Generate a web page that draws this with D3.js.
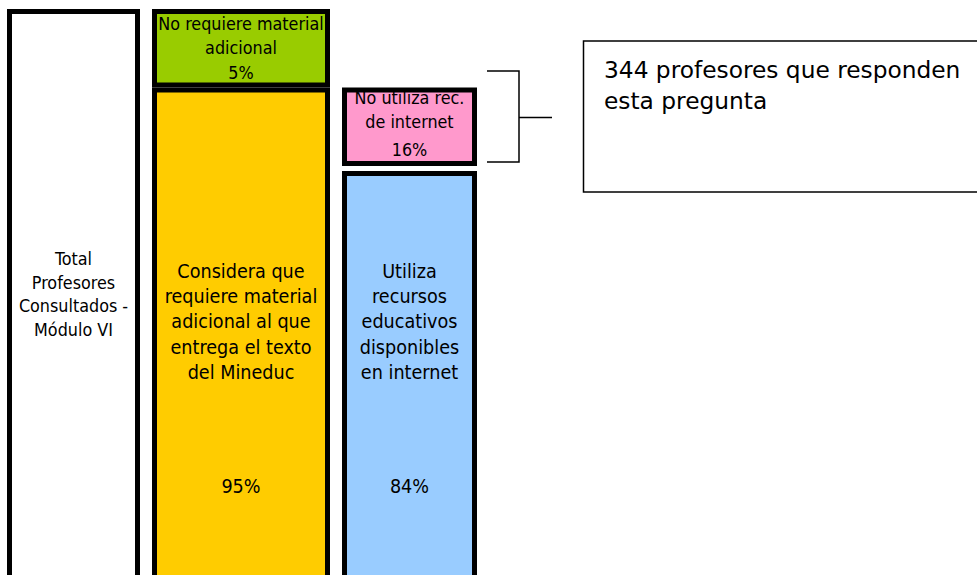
<!DOCTYPE html>
<html>
<head>
<meta charset="utf-8">
<script src="https://cdn.jsdelivr.net/npm/d3@7"></script>
<style>
  html, body { margin: 0; padding: 0; background: #fff; overflow: hidden; }
  svg { display: block; }
</style>
</head>
<body>
<script>
// ---- data ----
const columns = ["total", "material", "internet"];
const totalLabel = ["Total", "Profesores", "Consultados -", "Módulo VI"];
const categories = [
  "No requiere material adicional",
  "Considera que requiere material adicional al que entrega el texto del Mineduc",
  "No utiliza rec. de internet",
  "Utiliza recursos educativos disponibles en internet"
];
const categoryLines = [
  ["No requiere material", "adicional"],
  ["Considera que", "requiere material", "adicional al que", "entrega el texto", "del Mineduc"],
  ["No utiliza rec.", "de internet"],
  ["Utiliza", "recursos", "educativos", "disponibles", "en internet"]
];
const values = [5, 95, 16, 84];
const segColumn = ["material", "material", "internet", "internet"];
const segLevel = [0, 1, 1, 2];           // depth of each box in the diagram
const segSmall = [true, false, true, false];
const colors = ["#99CC00", "#FFCC00", "#FF99CC", "#99CCFF"];
const noteLines = ["344 profesores que responden", "esta pregunta"];

// ---- layout ----
const W = 977, H = 575;
const labelFont = "'DejaVu Sans Condensed', 'DejaVu Sans', sans-serif";
const svg = d3.select("body").append("svg").attr("width", W).attr("height", H);

const x = d3.scaleOrdinal().domain(columns).range([7, 152, 342]);
const w = d3.scaleOrdinal().domain(columns).range([133, 178, 135]);
const y = d3.scaleLinear().domain([0, 1, 2]).range([9, 87.5, 171]);
const smallH = 78.5;
const bottom = 620;
const sw = 5;

const fmt = v => v + "%";

// total column
svg.append("rect")
  .attr("x", x("total") + sw / 2).attr("y", y(0) + sw / 2)
  .attr("width", w("total") - sw).attr("height", bottom - y(0))
  .attr("fill", "#fff").attr("stroke", "#000").attr("stroke-width", sw);

const tl = svg.append("text")
  .attr("font-family", labelFont).attr("font-size", 17.8)
  .attr("text-anchor", "middle").attr("fill", "#000");
totalLabel.forEach((t, i) => {
  tl.append("tspan").attr("x", x("total") + w("total") / 2)
    .attr("y", 265 + i * 23.5).text(t);
});

// segments
const segs = values.map((v, i) => ({
  v, i, col: segColumn[i], level: segLevel[i], small: segSmall[i],
  color: colors[i], lines: categoryLines[i], name: categories[i]
}));

svg.selectAll("rect.seg").data(segs).join("rect")
  .attr("class", "seg")
  .attr("x", d => x(d.col) + sw / 2)
  .attr("y", d => y(d.level) + sw / 2)
  .attr("width", d => w(d.col) - sw)
  .attr("height", d => (d.small ? smallH : bottom - y(d.level)) - sw)
  .attr("fill", d => d.color)
  .attr("stroke", "#000").attr("stroke-width", sw);

segs.forEach(d => {
  const cx = x(d.col) + w(d.col) / 2;
  const g = svg.append("text")
    .attr("font-family", labelFont)
    .attr("text-anchor", "middle").attr("fill", "#000");
  if (d.small) {
    g.attr("font-size", 17.8);
    const top = y(d.level);
    const base = d.col === "material" ? 21 : 16.5;
    const step = d.col === "material" ? 24 : 24.3;
    d.lines.forEach((t, j) => {
      g.append("tspan").attr("x", cx).attr("y", top + base + j * step).text(t);
    });
    g.append("tspan").attr("x", cx)
      .attr("y", top + base + d.lines.length * step + (d.col === "material" ? 1 : 3))
      .text(fmt(d.v));
  } else {
    g.attr("font-size", 19.6);
    d.lines.forEach((t, j) => {
      g.append("tspan").attr("x", cx).attr("y", 278 + j * 25.2).text(t);
    });
    g.append("tspan").attr("x", cx).attr("y", 492.5).text(fmt(d.v));
  }
});

// bracket
const bx0 = 487, bx1 = 519, bx2 = 552, by0 = 71, by1 = 162;
svg.append("path")
  .attr("d", `M${bx0},${by0}H${bx1}V${by1}H${bx0}M${bx1},${(by0 + by1) / 2 + 1}H${bx2}`)
  .attr("fill", "none").attr("stroke", "#000").attr("stroke-width", 1.5);

// note box
svg.append("rect")
  .attr("x", 583.5).attr("y", 41).attr("width", 420).attr("height", 151)
  .attr("fill", "#fff").attr("stroke", "#000").attr("stroke-width", 1.5);
const nt = svg.append("text")
  .attr("font-family", "'DejaVu Sans', Verdana, sans-serif")
  .attr("font-size", 23.3).attr("fill", "#000");
noteLines.forEach((t, i) => {
  nt.append("tspan").attr("x", 604).attr("y", 77.5 + i * 31.5).text(t);
});
</script>
</body>
</html>
